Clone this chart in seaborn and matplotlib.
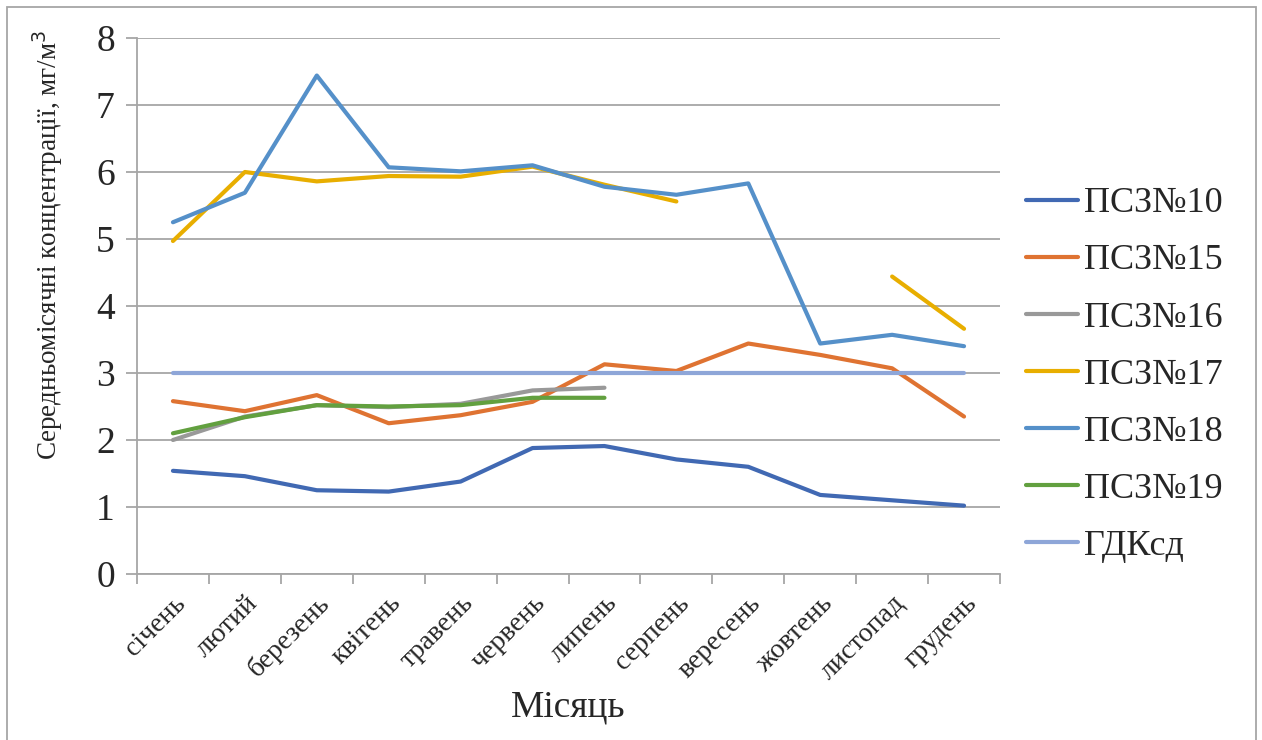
import numpy as np
import pandas as pd
import matplotlib
matplotlib.use("Agg")
import matplotlib.pyplot as plt
from matplotlib.patches import Rectangle
from matplotlib.ticker import FixedLocator
import seaborn as sns

months = ["січень", "лютий", "березень", "квітень", "травень", "червень",
          "липень", "серпень", "вересень", "жовтень", "листопад", "грудень"]

nan = np.nan
pcz10 = [1.54, 1.46, 1.25, 1.23, 1.38, 1.88, 1.91, 1.71, 1.60, 1.18, 1.10, 1.02]
pcz15 = [2.58, 2.43, 2.67, 2.25, 2.37, 2.57, 3.13, 3.03, 3.44, 3.27, 3.07, 2.35]
pcz16 = [2.00, 2.35, 2.52, 2.49, 2.54, 2.74, 2.78, nan, nan, nan, nan, nan]
pcz17 = [4.97, 6.00, 5.86, 5.94, 5.93, 6.08, 5.81, 5.56, nan, nan, 4.44, 3.66]
pcz18 = [5.25, 5.69, 7.44, 6.07, 6.01, 6.10, 5.78, 5.66, 5.83, 3.44, 3.57, 3.40]
pcz19 = [2.10, 2.34, 2.52, 2.50, 2.52, 2.63, 2.63, nan, nan, nan, nan, nan]
gdk = [3.0] * 12

series_names = ["ПСЗ№10", "ПСЗ№15", "ПСЗ№16", "ПСЗ№17", "ПСЗ№18", "ПСЗ№19", "ГДКсд"]
series_values = [pcz10, pcz15, pcz16, pcz17, pcz18, pcz19, gdk]
colors = ["#4169B3", "#DF7332", "#999999", "#E8AE00", "#5590C9", "#62A03F", "#8EA6D8"]

# Long-form table; gaps split a series into separate segments (units)
rows = []
for name, vals in zip(series_names, series_values):
    seg = 0
    prev_nan = False
    for i, v in enumerate(vals):
        if np.isnan(v):
            prev_nan = True
            continue
        if prev_nan:
            seg += 1
            prev_nan = False
        rows.append({"month": i, "value": v, "series": name, "seg": f"{name}_{seg}"})
df = pd.DataFrame(rows)

sns.set_theme(style="white")
plt.rcParams["font.family"] = ["Liberation Serif", "DejaVu Serif"]

LW = 3.0

fig = plt.figure(figsize=(12.62, 7.4), dpi=100)
ax = fig.add_axes([137 / 1262, 1 - 574 / 740, (1000 - 137) / 1262, (574 - 38) / 740])

sns.lineplot(data=df, x="month", y="value", hue="series", units="seg",
             estimator=None, hue_order=series_names, palette=colors,
             linewidth=LW, ax=ax, legend=False, sort=True)

ax.set_xlim(-0.5, 11.5)
ax.set_ylim(0, 8)
ax.set_yticks(range(0, 9))
ax.yaxis.grid(True, color="#A6A6A6", linewidth=1.3)
ax.set_axisbelow(True)

for s in ["top", "right"]:
    ax.spines[s].set_visible(False)
for s in ["left", "bottom"]:
    ax.spines[s].set_color("#A6A6A6")
    ax.spines[s].set_linewidth(1.3)

ax.set_xticks(range(12))
ax.set_xticklabels(months, rotation=45, ha="right", rotation_mode="anchor",
                   fontsize=20)
ax.xaxis.set_minor_locator(FixedLocator(np.arange(-0.5, 12, 1)))
ax.tick_params(axis="x", which="major", length=0, pad=12)
ax.tick_params(axis="x", which="minor", length=7, width=1.3, color="#A6A6A6",
               direction="out", bottom=True)
ax.tick_params(axis="y", length=8, width=1.3, color="#A6A6A6", direction="out",
               left=True, labelsize=27, pad=8)

ax.set_xlabel("Місяць", fontsize=27, labelpad=4)
ax.set_ylabel("Середньомісячні концентрації, мг/м$^3$", fontsize=19.5)
ax.yaxis.set_label_coords(-0.083, 0.614)

handles = [plt.Line2D([], [], color=c, linewidth=LW) for c in colors]
fig.legend(handles, series_names, loc="center left",
           bbox_to_anchor=(1026 / 1262, 1 - 375 / 740), frameon=False,
           fontsize=26, handlelength=1.45, handletextpad=0.15, labelspacing=0.66,
           borderpad=0, borderaxespad=0)

fig.patches.append(Rectangle((7 / 1262, -0.01), (1256 - 7) / 1262, 1 - 7 / 740 + 0.01,
                             transform=fig.transFigure, fill=False,
                             edgecolor="#A6A6A6", linewidth=1.3))

fig.savefig("out.png", dpi=100, facecolor="white")
